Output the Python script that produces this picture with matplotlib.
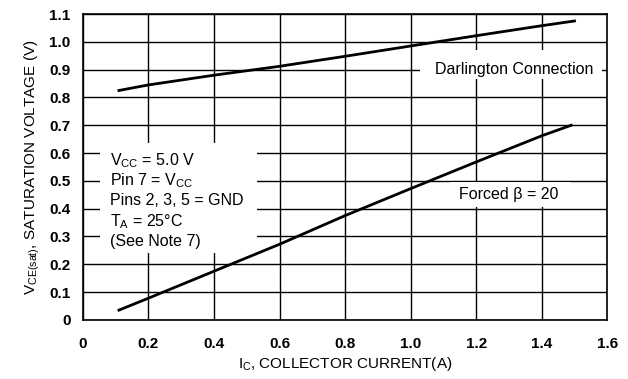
import matplotlib
matplotlib.use('Agg')
import matplotlib.pyplot as plt
from matplotlib.patches import Rectangle

plt.rcParams['font.family'] = ['Liberation Sans', 'DejaVu Sans']
plt.rcParams['mathtext.fontset'] = 'custom'
plt.rcParams['mathtext.rm'] = 'Liberation Sans'
plt.rcParams['mathtext.it'] = 'Liberation Sans'
plt.rcParams['mathtext.default'] = 'regular'

# curves
ic_darl = [0.11, 0.2, 0.4, 0.6, 0.8, 1.0, 1.2, 1.4, 1.5]
vce_darl = [0.825, 0.845, 0.88, 0.912, 0.948, 0.985, 1.022, 1.058, 1.075]
ic_beta = [0.11, 0.2, 0.4, 0.6, 0.8, 1.0, 1.2, 1.4, 1.49]
vce_beta = [0.035, 0.078, 0.175, 0.272, 0.375, 0.472, 0.568, 0.662, 0.70]

xticks = [0, 0.2, 0.4, 0.6, 0.8, 1.0, 1.2, 1.4, 1.6]
xticklabels = ['0', '0.2', '0.4', '0.6', '0.8', '1.0', '1.2', '1.4', '1.6']
yticks = [0, 0.1, 0.2, 0.3, 0.4, 0.5, 0.6, 0.7, 0.8, 0.9, 1.0, 1.1]
yticklabels = ['0', '0.1', '0.2', '0.3', '0.4', '0.5', '0.6', '0.7', '0.8', '0.9', '1.0', '1.1']

notes = [r'V$_{CC}$ = 5.0 V', r'Pin 7 = V$_{CC}$', 'Pins 2, 3, 5 = GND',
         r'T$_{A}$ = 25°C', '(See Note 7)']

fig = plt.figure(figsize=(6.28, 3.79), dpi=100)
ax = fig.add_axes([0.132, 0.156, 0.835, 0.807])

ax.plot(ic_darl, vce_darl, color='black', lw=2.0, zorder=3)
ax.plot(ic_beta, vce_beta, color='black', lw=2.0, zorder=3)

ax.set_xlim(0, 1.6)
ax.set_ylim(0, 1.1)
ax.set_xticks(xticks)
ax.set_xticklabels(xticklabels)
ax.set_yticks(yticks)
ax.set_yticklabels(yticklabels)
ax.tick_params(length=0, labelsize=11)
ax.tick_params(axis='y', pad=9)
ax.tick_params(axis='x', pad=12)
for lab in ax.get_xticklabels() + ax.get_yticklabels():
    lab.set_fontweight('bold')
ax.set_axisbelow(True)
ax.grid(True, color='black', lw=1.0)
for s in ax.spines.values():
    s.set_linewidth(1.2)

# white areas behind the labels, hiding the grid
ax.add_patch(Rectangle((1.03, 0.865), 0.555, 0.105, fc='white', ec='none', zorder=1))
ax.add_patch(Rectangle((1.12, 0.405), 0.37, 0.09, fc='white', ec='none', zorder=1))
ax.add_patch(Rectangle((0.052, 0.24), 0.48, 0.395, fc='white', ec='none', zorder=1))

ax.text(1.315, 0.9, 'Darlington Connection', ha='center', va='center', fontsize=11.5, zorder=4)
ax.text(1.30, 0.452, 'Forced β = 20', ha='center', va='center', fontsize=11.5, zorder=4)
for i, line in enumerate(notes):
    ax.text(0.082, 0.574 - i * 0.073, line, ha='left', va='center', fontsize=11.5, zorder=4)

ax.set_xlabel(r'I$_{C}$, COLLECTOR CURRENT(A)', fontsize=11, labelpad=3)
ax.set_ylabel(r'V$_{CE(sat)}$, SATURATION VOLTAGE (V)', fontsize=11, labelpad=5)

fig.savefig('out.png', dpi=100)
